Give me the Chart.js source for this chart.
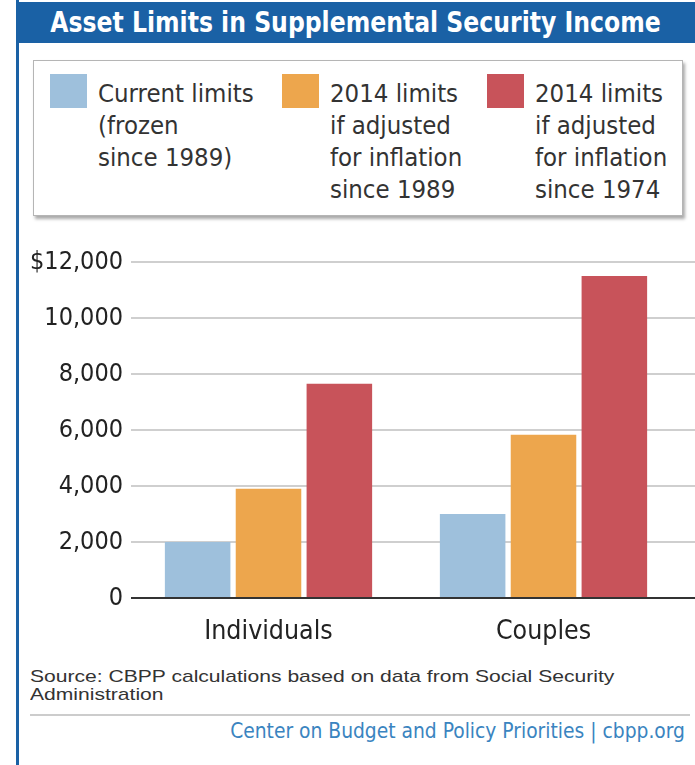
<!DOCTYPE html>
<html>
<head>
<meta charset="utf-8">
<script src="https://cdn.jsdelivr.net/npm/chart.js@4.4.1/dist/chart.umd.min.js"></script>
<style>
  body { margin: 0; background: #fff; }
  #page { position: relative; width: 695px; height: 765px; overflow: hidden; background: #fff;
          font-family: 'DejaVu Sans Condensed', 'Noto Sans', sans-serif; }
  #leftbar { position: absolute; left: 16px; top: 0; width: 3px; height: 765px; background: #1a61a5; }
  #title { position: absolute; left: 16px; top: 2px; width: 679px; height: 41px; background: #1a61a5; }
  #title span { position: absolute; left: 0; width: 679px; top: 0; color: #fff; font-weight: bold;
                font-size: 28px; line-height: 41px; text-align: center; white-space: nowrap;
                transform: scaleX(0.935); }
  #legend { position: absolute; left: 33px; top: 60px; width: 648px; height: 154px;
            border: 1px solid #b5b5b5; box-shadow: 2px 3px 3px #aaa; background: #fff; }
  .item { position: absolute; top: 13px; }
  .swatch { position: absolute; top: 0; width: 37px; height: 34px; }
  .label { position: absolute; top: 3px; white-space: pre; font-size: 25.5px; line-height: 32px; color: #333; }
  #source { position: absolute; left: 30px; top: 668px; font-family: 'Liberation Sans', Arial, sans-serif;
            font-size: 17px; line-height: 18px; color: #333; white-space: nowrap;
            transform: scaleX(1.24); transform-origin: left top; }
  #rule { position: absolute; left: 30px; top: 714px; width: 660px; height: 2px; background: #ccc; }
  #credit { position: absolute; right: 10px; top: 719px; font-size: 20.8px; color: #3a84c0; white-space: nowrap; }
  #wrap { position: absolute; left: 0; top: 230px; }
</style>
</head>
<body>
<div id="page">
  <div id="leftbar"></div>
  <div id="title"><span>Asset Limits in Supplemental Security Income</span></div>
  <div id="legend"></div>
  <div id="wrap"><canvas id="chart" width="695" height="430"></canvas></div>
  <div id="source">Source: CBPP calculations based on data from Social Security<br>Administration</div>
  <div id="rule"></div>
  <div id="credit">Center on Budget and Policy Priorities | cbpp.org</div>
</div>
<script>
// Data
const categories = ['Individuals', 'Couples'];
const seriesLabels = [
  'Current limits\n(frozen\nsince 1989)',
  '2014 limits\nif adjusted\nfor inflation\nsince 1989',
  '2014 limits\nif adjusted\nfor inflation\nsince 1974'
];
const currentLimits = [2000, 3000];
const adjusted1989 = [3900, 5830];
const adjusted1974 = [7650, 11500];
const yTicks = [0, 2000, 4000, 6000, 8000, 10000, 12000];

const colors = ['#9ec0dc', '#eda64d', '#c8535a'];
const FONT = "'DejaVu Sans Condensed', 'Noto Sans', sans-serif";

// Legend built from the series labels
const legendLeft = [16, 248, 453];
const legend = document.getElementById('legend');
seriesLabels.forEach(function(lbl, i) {
    const item = document.createElement('div');
    item.className = 'item';
    item.style.left = legendLeft[i] + 'px';
    item.innerHTML = '<div class="swatch" style="background:' + colors[i] + '"></div>' +
        '<div class="label" style="left:48px"></div>';
    item.querySelector('.label').textContent = lbl;
    legend.appendChild(item);
});

// Grid lines run out to the right edge of the canvas, zero line dark
const gridPlugin = {
    id: 'wideGrid',
    beforeDatasetsDraw(chart) {
        const ctx = chart.ctx;
        const y = chart.scales.y;
        const left = chart.chartArea.left;
        const right = chart.width;
        ctx.save();
        yTicks.forEach(function(v) {
            const py = Math.round(y.getPixelForValue(v));
            if (v === 0) return;
            ctx.strokeStyle = '#cfcfcf';
            ctx.lineWidth = 2;
            ctx.beginPath();
            ctx.moveTo(left, py);
            ctx.lineTo(right, py);
            ctx.stroke();
        });
        ctx.restore();
    },
    afterDatasetsDraw(chart) {
        const ctx = chart.ctx;
        const py = Math.round(chart.scales.y.getPixelForValue(0));
        ctx.save();
        ctx.strokeStyle = '#333';
        ctx.lineWidth = 2;
        ctx.beginPath();
        ctx.moveTo(chart.chartArea.left, py);
        ctx.lineTo(chart.width, py);
        ctx.stroke();
        ctx.restore();
    }
};

const datasets = [currentLimits, adjusted1989, adjusted1974].map(function(data, i) {
    return {
        label: seriesLabels[i],
        data: data,
        backgroundColor: colors[i],
        borderWidth: 0,
        categoryPercentage: 0.773,
        barPercentage: 0.925
    };
});

new Chart(document.getElementById('chart'), {
    type: 'bar',
    data: { labels: categories, datasets: datasets },
    plugins: [gridPlugin],
    options: {
        responsive: false,
        animation: false,
        layout: { padding: { top: 32, right: 14, bottom: 0, left: 0 } },
        plugins: { legend: { display: false }, tooltip: { enabled: false } },
        scales: {
            x: {
                grid: { display: false, drawTicks: false },
                border: { display: false },
                ticks: { color: '#222', font: { family: FONT, size: 26.5 }, padding: 18 },
                afterFit: function(scale) { scale.height = 62; }
            },
            y: {
                min: 0,
                max: 12000,
                afterBuildTicks: function(scale) {
                    scale.ticks = yTicks.map(function(v) { return { value: v }; });
                },
                grid: { display: false, drawTicks: false },
                border: { display: false },
                ticks: {
                    color: '#222',
                    font: { family: FONT, size: 25 },
                    padding: 8,
                    callback: function(value) {
                        const s = value.toLocaleString('en-US');
                        return value === 12000 ? '$' + s : s;
                    }
                },
                afterFit: function(scale) { scale.width = 131; }
            }
        }
    }
});
</script>
</body>
</html>
